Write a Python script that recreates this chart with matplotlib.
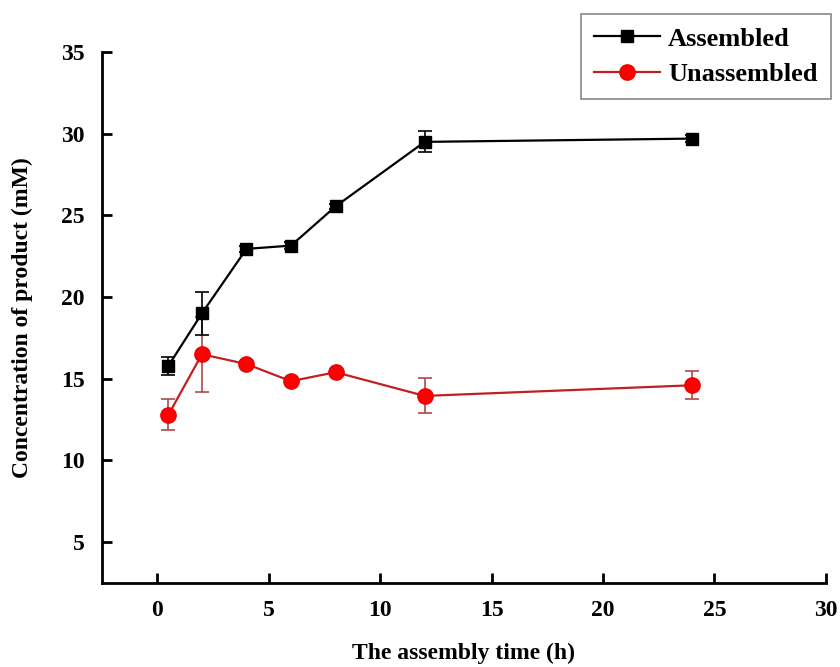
import matplotlib.pyplot as plt
from matplotlib.lines import Line2D

# data
time_h = [0.5, 2, 4, 6, 8, 12, 24]
assembled = [15.8, 19.0, 22.95, 23.15, 25.55, 29.5, 29.7]
assembled_err = [0.55, 1.3, 0.2, 0.2, 0.15, 0.65, 0.2]
unassembled = [12.8, 16.5, 15.9, 14.85, 15.4, 13.95, 14.6]
unassembled_err = [0.95, 2.3, 0.2, 0.2, 0.2, 1.07, 0.85]

x_ticks = [0, 5, 10, 15, 20, 25, 30]
y_ticks = [5, 10, 15, 20, 25, 30, 35]

plt.rcParams['font.family'] = ['Liberation Serif', 'DejaVu Serif']
plt.rcParams['font.weight'] = 'bold'

fig = plt.figure(figsize=(8.4, 6.67), dpi=100)
ax = fig.add_axes([0.121, 0.126, 0.862, 0.796])

ax.errorbar(time_h, assembled, yerr=assembled_err, color='black', marker='s',
            markersize=9, linewidth=1.6, ecolor='black', elinewidth=1.2,
            capsize=5, capthick=1.2, zorder=3)
ax.errorbar(time_h, unassembled, yerr=unassembled_err, color='#c02020', marker='o',
            markersize=11, markerfacecolor='#ff0000', markeredgecolor='#ee0000',
            linewidth=1.6, ecolor='#b04848', elinewidth=1.2,
            capsize=5, capthick=1.2, zorder=2)

ax.set_xlim(-2.5, 30)
ax.set_ylim(2.5, 35)
ax.set_xticks(x_ticks)
ax.set_yticks(y_ticks)

for s in ['top', 'right']:
    ax.spines[s].set_visible(False)
for s in ['left', 'bottom']:
    ax.spines[s].set_linewidth(2)

ax.tick_params(direction='in', length=7, width=2, labelsize=17, pad=12)
for lab in ax.get_xticklabels() + ax.get_yticklabels():
    lab.set_fontweight('bold')

ax.set_xlabel('The assembly time (h)', fontsize=17, fontweight='bold', labelpad=16)
ax.set_ylabel('Concentration of product (mM)', fontsize=17, fontweight='bold', labelpad=20)

handles = [
    Line2D([], [], color='black', marker='s', markersize=9, linewidth=1.6),
    Line2D([], [], color='#c02020', marker='o', markersize=11,
           markerfacecolor='#ff0000', markeredgecolor='#ee0000', linewidth=1.6),
]
leg = ax.legend(handles, ['Assembled', 'Unassembled'], loc='upper right',
                bbox_to_anchor=(0.989, 0.979), bbox_transform=fig.transFigure,
                borderaxespad=0, fancybox=False, framealpha=1,
                edgecolor='#888888', prop={'size': 19, 'weight': 'bold'},
                handlelength=2.5, handletextpad=0.3, borderpad=0.5,
                labelspacing=0.45)
leg.get_frame().set_linewidth(1.2)

fig.savefig('out.png', dpi=100)
